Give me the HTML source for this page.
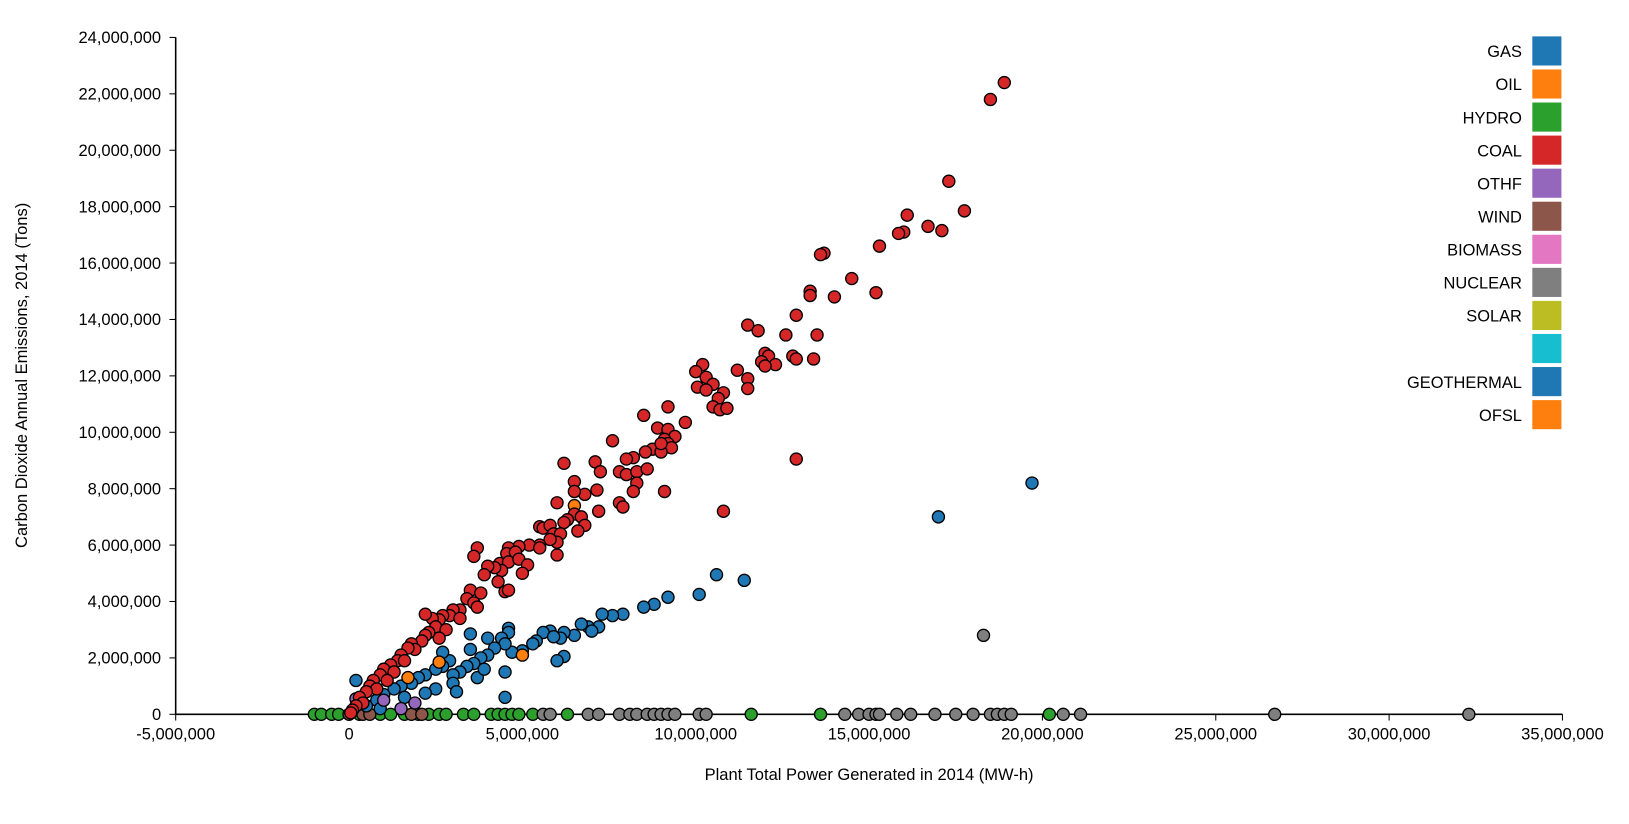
<!DOCTYPE html>
<html><head><meta charset="utf-8"><style>
html,body{margin:0;padding:0;background:#fff;}
svg{display:block;font-family:"Liberation Sans",Arial,sans-serif;}
</style></head><body>
<svg id="chart" width="1629" height="824" viewBox="0 0 1567 792.5" preserveAspectRatio="none" xmlns="http://www.w3.org/2000/svg">
<g id="axes"></g><g id="marks"></g><g id="legend"></g>
<text x="836" y="750" text-anchor="middle" font-size="15.9">Plant Total Power Generated in 2014 (MW-h)</text>
<text transform="translate(26,361) rotate(-90)" text-anchor="middle" font-size="15.9">Carbon Dioxide Annual Emissions, 2014 (Tons)</text>
</svg>
<script>
const xTicks=[-5,0,5,10,15,20,25,30,35];
const yTicks=[0,2,4,6,8,10,12,14,16,18,20,22,24];
const legendNames=["GAS","OIL","HYDRO","COAL","OTHF","WIND","BIOMASS","NUCLEAR","SOLAR","","GEOTHERMAL","OFSL"];
const legendColors=["#1f77b4","#ff7f0e","#2ca02c","#d62728","#9467bd","#8c564b","#e377c2","#7f7f7f","#bcbd22","#17becf","#1f77b4","#ff7f0e"];
// values in millions
const coalX=[18.9,18.5,17.3,17.75,16.1,16.0,15.85,16.7,17.1,15.3,13.7,13.6,14.5,13.3,13.3,15.2,14.0,12.9,11.5,11.8,12.6,13.5,12.0,12.1,12.8,12.9,13.4,11.9,12.3,12.0,10.2,10.0,11.2,10.3,11.5,10.5,10.05,10.3,11.5,10.8,10.65,10.5,10.7,10.9,9.7,9.2,8.5,8.9,9.2,9.4,9.1,9.2,9.3,8.75,8.55,9.0,9.0,8.2,8.0,7.6,6.2,7.1,6.5,7.25,7.8,8.0,8.3,8.6,8.3,8.2,9.1,7.15,6.8,6.5,12.9,10.8,7.8,7.9,7.2,6.0,6.5,6.7,6.3,6.2,6.8,6.6,5.5,5.6,5.8,5.9,6.1,6.0,5.8,5.5,5.2,4.9,4.6,4.55,4.8,5.5,6.0,3.7,3.6,4.35,4.6,4.9,5.15,4.4,4.2,4.0,5.0,3.9,3.5,3.8,4.3,4.5,4.6,3.4,3.6,3.7,3.2,3.0,2.9,3.2,2.7,2.6,2.4,2.2,2.5,2.8,2.6,2.3,2.2,2.1,1.8,1.9,1.7,1.5,1.4,1.6,1.2,1.0,1.3,0.9,1.1,0.7,0.6,0.8,0.5,0.3,0.4,0.2,0.1,0.05];
const coalY=[22.4,21.8,18.9,17.85,17.7,17.1,17.05,17.3,17.15,16.6,16.35,16.3,15.45,15.0,14.85,14.95,14.8,14.15,13.8,13.6,13.45,13.45,12.8,12.7,12.7,12.6,12.6,12.5,12.4,12.35,12.4,12.15,12.2,11.95,11.9,11.7,11.6,11.5,11.55,11.4,11.2,10.9,10.8,10.85,10.35,10.9,10.6,10.15,10.1,9.85,9.75,9.6,9.45,9.4,9.3,9.3,9.6,9.1,9.05,9.7,8.9,8.95,8.25,8.6,8.6,8.5,8.6,8.7,8.2,7.9,7.9,7.95,7.8,7.9,9.05,7.2,7.5,7.35,7.2,7.5,7.1,7.0,6.9,6.8,6.7,6.5,6.65,6.6,6.7,6.4,6.4,6.1,6.2,6.0,6.0,5.95,5.9,5.7,5.75,5.9,5.65,5.9,5.6,5.35,5.4,5.5,5.3,5.1,5.2,5.25,5.0,4.95,4.4,4.3,4.7,4.35,4.4,4.1,3.95,3.8,3.7,3.7,3.5,3.4,3.5,3.35,3.4,3.55,3.1,3.0,2.7,2.9,2.8,2.6,2.5,2.3,2.35,2.1,1.9,1.9,1.75,1.6,1.5,1.4,1.2,1.2,1.0,0.9,0.8,0.6,0.4,0.3,0.15,0.05];
const gasX=[19.7,17.0,10.6,11.4,10.1,9.2,8.8,8.5,7.9,7.6,7.3,7.2,6.9,6.7,7.0,6.5,6.2,5.8,6.1,5.6,5.9,6.2,6.0,5.4,5.3,5.0,4.7,4.6,4.6,4.4,4.0,3.5,4.5,4.2,4.0,3.8,3.6,3.4,3.5,3.2,3.0,2.9,2.7,2.5,2.2,2.0,1.8,1.5,1.3,1.0,0.8,0.5,0.2,4.5,2.7,3.0,2.5,3.7,4.5,3.9,2.2,1.6,0.9,3.1];
const gasY=[8.2,7.0,4.95,4.75,4.25,4.15,3.9,3.8,3.55,3.5,3.55,3.1,3.1,3.2,2.95,2.8,2.9,2.95,2.7,2.9,2.75,2.05,1.9,2.6,2.5,2.25,2.2,3.05,2.9,2.7,2.7,2.85,2.5,2.35,2.1,2.0,1.8,1.7,2.3,1.5,1.4,1.9,1.7,1.6,1.4,1.3,1.1,1.0,0.9,0.7,0.5,0.3,1.2,0.6,2.2,1.1,0.9,1.3,1.5,1.6,0.75,0.6,0.2,0.8];
const oilX=[6.5,2.6,1.7,5.0];
const oilY=[7.4,1.85,1.3,2.1];
const othfX=[0.2,1.9,1.5,1.0];
const othfY=[0.55,0.4,0.2,0.5];
const nuclearX=[5.6,5.8,6.9,7.2,7.8,8.1,8.3,8.6,8.8,9.0,9.2,9.4,10.1,10.3,14.3,14.7,15.0,15.2,15.3,15.8,16.2,16.9,17.5,18.0,18.5,18.7,18.9,19.1,20.6,21.1,26.7,32.3,18.3];
const nuclearY=[0,0,0,0,0,0,0,0,0,0,0,0,0,0,0,0,0,0,0,0,0,0,0,0,0,0,0,0,0,0,0,0,2.8];
const hydroX=[-1.0,-0.8,-0.5,-0.3,0.3,0.9,1.2,1.6,2.0,2.3,2.6,2.8,3.3,3.6,4.1,4.3,4.5,4.7,4.9,5.3,6.3,11.6,13.6,20.2];
const hydroY=[0,0,0,0,0,0,0,0,0,0,0,0,0,0,0,0,0,0,0,0,0,0,0,0];
const windX=[0.0,0.4,0.6,1.8,2.1];
const windY=[0,0,0,0,0];

const NS="http://www.w3.org/2000/svg";
const X0=169,X1=1503,Y0=687,Y1=36;
function xs(v){return X0+(v+5)/40*(X1-X0);}
function ys(v){return Y0-v/24*(Y0-Y1);}
function mk(t,a,p){const e=document.createElementNS(NS,t);for(const k in a)e.setAttribute(k,a[k]);p.appendChild(e);return e;}
function fmt(v){return (v*1e6).toLocaleString('en-US');}
const axes=document.getElementById('axes');
const xl=mk('line',{x1:X0,x2:X1,y1:Y0,y2:Y0,stroke:'#000','stroke-width':1.5},axes);


const yl=mk('line',{x1:X0,x2:X0,y1:Y0,y2:Y1,stroke:'#000','stroke-width':1.5},axes);


xTicks.forEach(v=>{
  mk('line',{x1:xs(v),x2:xs(v),y1:Y0,y2:Y0+6,stroke:'#000'},axes);
  const t=mk('text',{x:xs(v),y:Y0+24,'text-anchor':'middle','font-size':15.9},axes);
  t.textContent=fmt(v);
  
  
});
yTicks.forEach(v=>{
  mk('line',{x1:X0-6,x2:X0,y1:ys(v),y2:ys(v),stroke:'#000'},axes);
  const t=mk('text',{x:X0-14,y:ys(v)+5.5,'text-anchor':'end','font-size':15.9},axes);
  t.textContent=fmt(v);
  
  
});
const marks=document.getElementById('marks');
function series(X,Y,c,name){X.forEach((x,i)=>{
  const e=mk('circle',{cx:xs(x),cy:ys(Y[i]),r:5.8,fill:c,stroke:'#000','stroke-width':1.3},marks);
  
  
});}
series(hydroX,hydroY,'#2ca02c','hydro');
series(nuclearX,nuclearY,'#7f7f7f','nuclear');
series(windX,windY,'#8c564b','wind');
series(gasX,gasY,'#1f77b4','gas');
series(othfX,othfY,'#9467bd','othf');
series(oilX,oilY,'#ff7f0e','oil');
series(coalX,coalY,'#d62728','coal');
const lg=document.getElementById('legend');
legendNames.forEach((n,i)=>{
  const y=35+i*31.8;
  const r=mk('rect',{x:1474,y:y,width:28,height:28,fill:legendColors[i]},lg);
  
  
  const t=mk('text',{x:1464,y:y+20,'text-anchor':'end','font-size':15.8},lg);
  t.textContent=n;
  
  
});
</script>
</body></html>
